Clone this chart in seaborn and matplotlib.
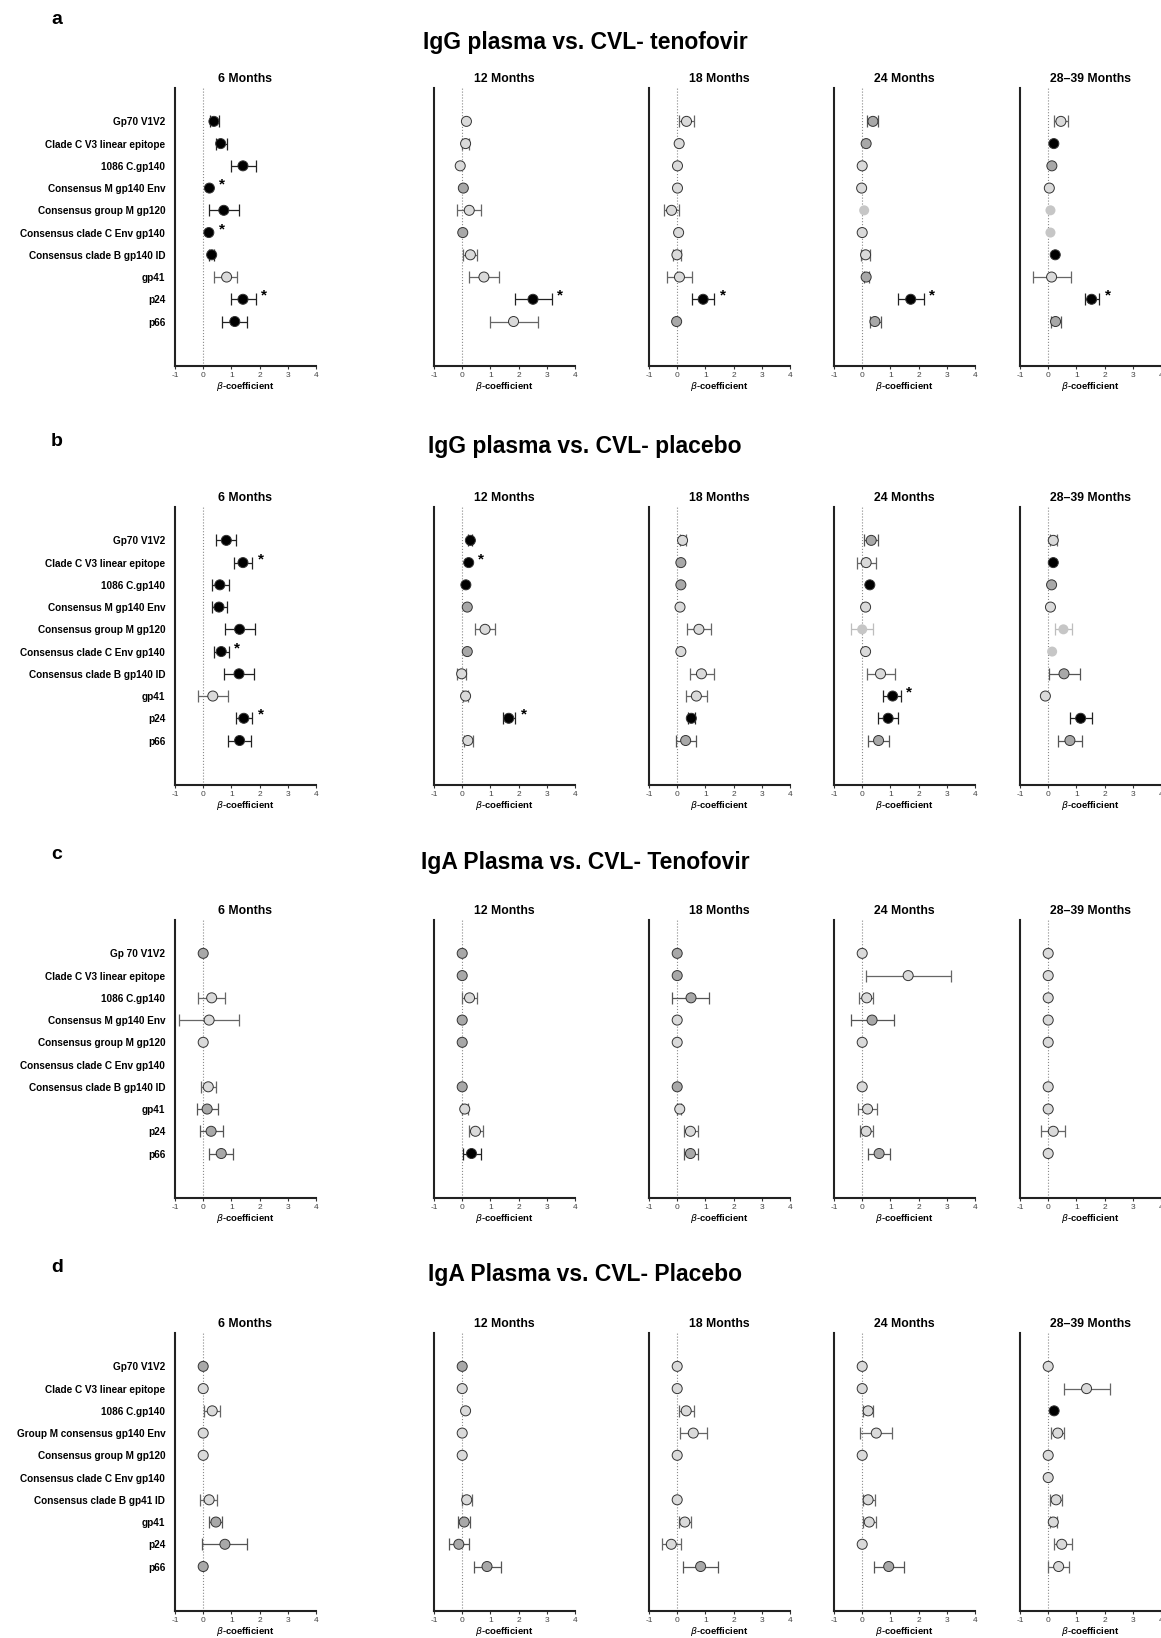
import numpy as np
import pandas as pd
import matplotlib
matplotlib.use("Agg")
import matplotlib.pyplot as plt
from matplotlib import font_manager
import seaborn as sns

nan = np.nan

months = ["6 Months", "12 Months", "18 Months", "24 Months", "28\u201339 Months"]

titles = ["IgG plasma vs. CVL- tenofovir", "IgG plasma vs. CVL- placebo",
          "IgA Plasma vs. CVL- Tenofovir", "IgA Plasma vs. CVL- Placebo"]
letters = ["a", "b", "c", "d"]

antigens_ab = ["Gp70 V1V2", "Clade C V3 linear epitope", "1086 C.gp140", "Consensus M gp140 Env",
               "Consensus group M gp120", "Consensus clade C Env gp140", "Consensus clade B gp140 ID",
               "gp41", "p24", "p66"]
antigens_c = ["Gp 70 V1V2"] + antigens_ab[1:]
antigens_d = ["Gp70 V1V2", "Clade C V3 linear epitope", "1086 C.gp140", "Group M consensus gp140 Env",
              "Consensus group M gp120", "Consensus clade C Env gp140", "Consensus clade B gp41 ID",
              "gp41", "p24", "p66"]

# ---- panel a: IgG tenofovir ----
beta_a = [[0.38, 0.62, 1.41, 0.22, 0.73, 0.20, 0.30, 0.83, 1.41, 1.12],
          [0.15, 0.12, -0.07, 0.04, 0.25, 0.02, 0.29, 0.77, 2.51, 1.82],
          [0.33, 0.07, 0.01, 0.01, -0.20, 0.05, -0.01, 0.08, 0.92, -0.02],
          [0.38, 0.14, 0.00, -0.02, 0.07, 0.00, 0.12, 0.14, 1.72, 0.45],
          [0.45, 0.20, 0.13, 0.04, 0.08, 0.08, 0.25, 0.12, 1.54, 0.26]]
lo_a = [[0.24, 0.44, 0.97, nan, 0.22, nan, 0.22, 0.38, 0.97, 0.65],
        [nan, 0.00, nan, nan, -0.20, nan, 0.04, 0.25, 1.86, 0.99],
        [0.06, nan, nan, nan, -0.48, nan, -0.15, -0.36, 0.54, nan],
        [0.18, nan, nan, nan, nan, nan, -0.04, 0.05, 1.27, 0.26],
        [0.20, nan, nan, nan, nan, nan, nan, -0.53, 1.30, 0.09]]
hi_a = [[0.56, 0.85, 1.86, nan, 1.27, nan, 0.40, 1.20, 1.86, 1.56],
        [nan, 0.25, nan, nan, 0.68, nan, 0.54, 1.30, 3.17, 2.69],
        [0.60, nan, nan, nan, 0.06, nan, 0.15, 0.51, 1.31, nan],
        [0.56, nan, nan, nan, nan, nan, 0.27, 0.25, 2.19, 0.65],
        [0.71, nan, nan, nan, nan, nan, nan, 0.80, 1.81, 0.44]]
tone_a = ["kkkkkkklkk", "lllmlmllkl", "llllllllkm", "mmllnllmkm", "lkmlnnklkm"]
star_a = [[3, 5, 8], [8], [8], [8], [8]]

# ---- panel b: IgG placebo ----
beta_b = [[0.82, 1.41, 0.59, 0.56, 1.29, 0.64, 1.27, 0.34, 1.44, 1.29],
          [0.29, 0.23, 0.13, 0.18, 0.81, 0.18, -0.02, 0.12, 1.65, 0.20],
          [0.19, 0.13, 0.13, 0.10, 0.77, 0.13, 0.86, 0.68, 0.50, 0.30],
          [0.32, 0.14, 0.27, 0.12, 0.00, 0.12, 0.65, 1.08, 0.92, 0.58],
          [0.18, 0.18, 0.12, 0.08, 0.54, 0.14, 0.56, -0.10, 1.15, 0.77]]
lo_b = [[0.47, 1.09, 0.32, 0.32, 0.76, 0.38, 0.73, -0.17, 1.16, 0.89],
        [0.22, nan, nan, nan, 0.46, nan, -0.17, 0.02, 1.44, 0.05],
        [0.10, nan, nan, nan, 0.36, nan, 0.44, 0.32, 0.38, -0.06],
        [0.06, -0.18, nan, nan, -0.38, nan, 0.18, 0.75, 0.57, 0.21],
        [0.08, nan, nan, nan, 0.24, nan, 0.04, nan, 0.77, 0.33]]
hi_b = [[1.16, 1.74, 0.91, 0.83, 1.83, 0.91, 1.80, 0.88, 1.74, 1.70],
        [0.36, nan, nan, nan, 1.17, nan, 0.12, 0.22, 1.89, 0.37],
        [0.30, nan, nan, nan, 1.19, nan, 1.29, 1.04, 0.62, 0.68],
        [0.56, 0.49, nan, nan, 0.38, nan, 1.15, 1.37, 1.27, 0.95],
        [0.30, nan, nan, nan, 0.86, nan, 1.11, nan, 1.55, 1.21]]
tone_b = ["kkkkkkklkk", "kkkmlmllkl", "lmmlllllkm", "mlklnllkkm", "lkmlnnmlkm"]
star_b = [[1, 5, 8], [1, 8], [], [7], []]

# ---- panel c: IgA tenofovir ----
beta_c = [[0.00, nan, 0.30, 0.21, 0.00, nan, 0.18, 0.14, 0.28, 0.64],
          [0.00, 0.00, 0.26, 0.00, 0.00, nan, 0.00, 0.09, 0.47, 0.33],
          [0.00, 0.00, 0.49, 0.00, 0.00, nan, 0.00, 0.09, 0.47, 0.47],
          [0.00, 1.63, 0.16, 0.35, 0.00, nan, 0.00, 0.19, 0.14, 0.60],
          [0.00, 0.00, 0.00, 0.00, 0.00, nan, 0.00, 0.00, 0.18, 0.00]]
lo_c = [[nan, nan, -0.18, -0.85, nan, nan, -0.09, -0.21, -0.12, 0.20],
        [nan, nan, -0.02, nan, nan, nan, nan, 0.00, 0.24, 0.03],
        [nan, nan, -0.18, nan, nan, nan, nan, 0.00, 0.23, 0.23],
        [nan, 0.12, -0.10, -0.40, nan, nan, nan, -0.14, -0.07, 0.19],
        [nan, nan, nan, nan, nan, nan, nan, nan, -0.26, nan]]
hi_c = [[nan, nan, 0.77, 1.27, nan, nan, 0.46, 0.52, 0.71, 1.07],
        [nan, nan, 0.53, nan, nan, nan, nan, 0.20, 0.74, 0.65],
        [nan, nan, 1.14, nan, nan, nan, nan, 0.15, 0.72, 0.75],
        [nan, 3.14, 0.39, 1.12, nan, nan, nan, 0.53, 0.37, 1.00],
        [nan, nan, nan, nan, nan, nan, nan, nan, 0.58, nan]]
tone_c = ["m-lll-lmmm", "mmlmm-mllk", "mmmll-mllm", "lllml-lllm", "lllll-llll"]
star_c = [[], [], [], [], []]

# ---- panel d: IgA placebo ----
beta_d = [[0.00, 0.00, 0.32, 0.00, 0.00, nan, 0.21, 0.45, 0.77, 0.00],
          [0.00, 0.00, 0.12, 0.00, 0.00, nan, 0.16, 0.07, -0.12, 0.88],
          [0.00, 0.00, 0.32, 0.57, 0.00, nan, 0.00, 0.27, -0.21, 0.83],
          [0.00, 0.00, 0.21, 0.50, 0.00, nan, 0.21, 0.25, 0.00, 0.94],
          [0.00, 1.36, 0.21, 0.34, 0.00, 0.00, 0.28, 0.18, 0.48, 0.37]]
lo_d = [[nan, nan, 0.02, nan, nan, nan, -0.10, 0.20, -0.04, nan],
        [nan, nan, nan, nan, nan, nan, -0.02, -0.14, -0.48, 0.42],
        [nan, nan, 0.07, 0.11, nan, nan, nan, 0.07, -0.55, 0.21],
        [nan, nan, 0.02, -0.07, nan, nan, 0.02, 0.04, nan, 0.41],
        [nan, 0.57, nan, 0.11, nan, nan, 0.05, 0.05, 0.19, 0.00]]
hi_d = [[nan, nan, 0.58, nan, nan, nan, 0.50, 0.65, 1.55, nan],
        [nan, nan, nan, nan, nan, nan, 0.34, 0.27, 0.23, 1.36],
        [nan, nan, 0.58, 1.04, nan, nan, nan, 0.50, 0.14, 1.45],
        [nan, nan, 0.39, 1.04, nan, nan, 0.44, 0.48, nan, 1.49],
        [nan, 2.18, nan, 0.57, nan, nan, 0.48, 0.30, 0.83, 0.74]]
tone_d = ["mllll-lmmm", "mllll-lmmm", "lllll-lllm", "lllll-lllm", "llklllllll"]
star_d = [[], [], [], [], []]

panels = [
    (antigens_ab, beta_a, lo_a, hi_a, tone_a, star_a),
    (antigens_ab, beta_b, lo_b, hi_b, tone_b, star_b),
    (antigens_c, beta_c, lo_c, hi_c, tone_c, star_c),
    (antigens_d, beta_d, lo_d, hi_d, tone_d, star_d),
]

fill = {"k": "#000000", "m": "#a8a8a8", "l": "#dadada", "n": "#c6c6c6"}
bar_col = {"k": "#222222", "m": "#555555", "l": "#666666", "n": "#bdbdbd"}

sns.set_theme(style="ticks")
names = {f.name for f in font_manager.fontManager.ttflist}
main_font = "Liberation Sans Narrow" if "Liberation Sans Narrow" in names else "Liberation Sans"
plt.rcParams["font.family"] = [main_font, "DejaVu Sans"]
plt.rcParams["mathtext.fontset"] = "dejavusans"
plt.rcParams["text.color"] = "black"
plt.rcParams["axes.labelcolor"] = "black"

W, H = 1161, 1638
fig = plt.figure(figsize=(W / 100, H / 100), dpi=100)
fig.patch.set_facecolor("white")

lefts = [175, 434, 649, 834, 1020]
tops = [88, 507, 920, 1333]
ax_w, ax_h = 141, 278
title_y = [42, 447, 862, 1275]
letter_y = [19, 441, 854, 1268]

for r, (antigens, beta_p, lo_p, hi_p, tone_p, star_p) in enumerate(panels):
    fig.text(585 / W, 1 - title_y[r] / H, titles[r], ha="center", va="center",
             fontsize=16.5, fontweight="bold", color="black")
    fig.text(57 / W, 1 - letter_y[r] / H, letters[r], ha="center", va="center",
             fontsize=14, fontweight="bold", color="black")
    for c in range(5):
        ax = fig.add_axes([lefts[c] / W, 1 - (tops[r] + ax_h) / H, ax_w / W, ax_h / H])
        ax.set_facecolor("white")
        df = pd.DataFrame({
            "pos": np.arange(len(antigens)),
            "beta": beta_p[c],
            "lo": lo_p[c],
            "hi": hi_p[c],
            "tone": list(tone_p[c]),
        })
        df = df[df["tone"] != "-"]

        ax.axvline(0, color="#8a8a8a", ls=":", lw=0.8, zorder=1)

        bars = df.dropna(subset=["lo"])
        for t, g in bars.groupby("tone"):
            ax.errorbar(g["beta"], g["pos"], xerr=[g["beta"] - g["lo"], g["hi"] - g["beta"]],
                        fmt="none", ecolor=bar_col[t], elinewidth=0.9, capsize=4.5,
                        capthick=0.9, zorder=2)

        edged = df[df["tone"] != "n"]
        sns.scatterplot(data=edged, x="beta", y="pos", hue="tone", palette=fill, s=52,
                        edgecolor="#333333", linewidth=0.7, legend=False, ax=ax, zorder=3)
        faint = df[df["tone"] == "n"]
        if len(faint):
            sns.scatterplot(data=faint, x="beta", y="pos", color=fill["n"], s=52,
                            edgecolor="none", legend=False, ax=ax, zorder=3)

        for i in star_p[c]:
            reach = df.loc[i, "hi"] if not np.isnan(df.loc[i, "hi"]) else df.loc[i, "beta"] + 0.15
            ax.text(reach + 0.3, i - 0.15, "*", ha="center", va="center",
                    fontsize=11, fontweight="bold", color="black")

        ax.set_xlim(-1, 4)
        ax.set_ylim(11.0, -1.5)
        ax.set_xticks(range(-1, 5))
        ax.set_xticklabels([str(v) for v in range(-1, 5)])
        ax.set_yticks(np.arange(len(antigens)))
        if c == 0:
            ax.set_yticklabels(antigens, fontsize=7.2, fontweight="bold", color="black")
        else:
            ax.set_yticklabels([])
        ax.tick_params(axis="y", length=0, pad=7)
        ax.tick_params(axis="x", labelsize=6, length=2.5, width=0.8, pad=1.5,
                       color="#333333", labelcolor="#444444")
        ax.set_ylabel("")
        ax.set_xlabel(r"$\beta$-coefficient", fontsize=6.8, fontweight="bold", labelpad=1)
        ax.set_title(months[c], fontsize=8.8, fontweight="bold", pad=4, color="black")
        sns.despine(ax=ax)
        for s in ["left", "bottom"]:
            ax.spines[s].set_linewidth(1.5)
            ax.spines[s].set_color("#222222")

fig.savefig("out.png", dpi=100, facecolor="white")
